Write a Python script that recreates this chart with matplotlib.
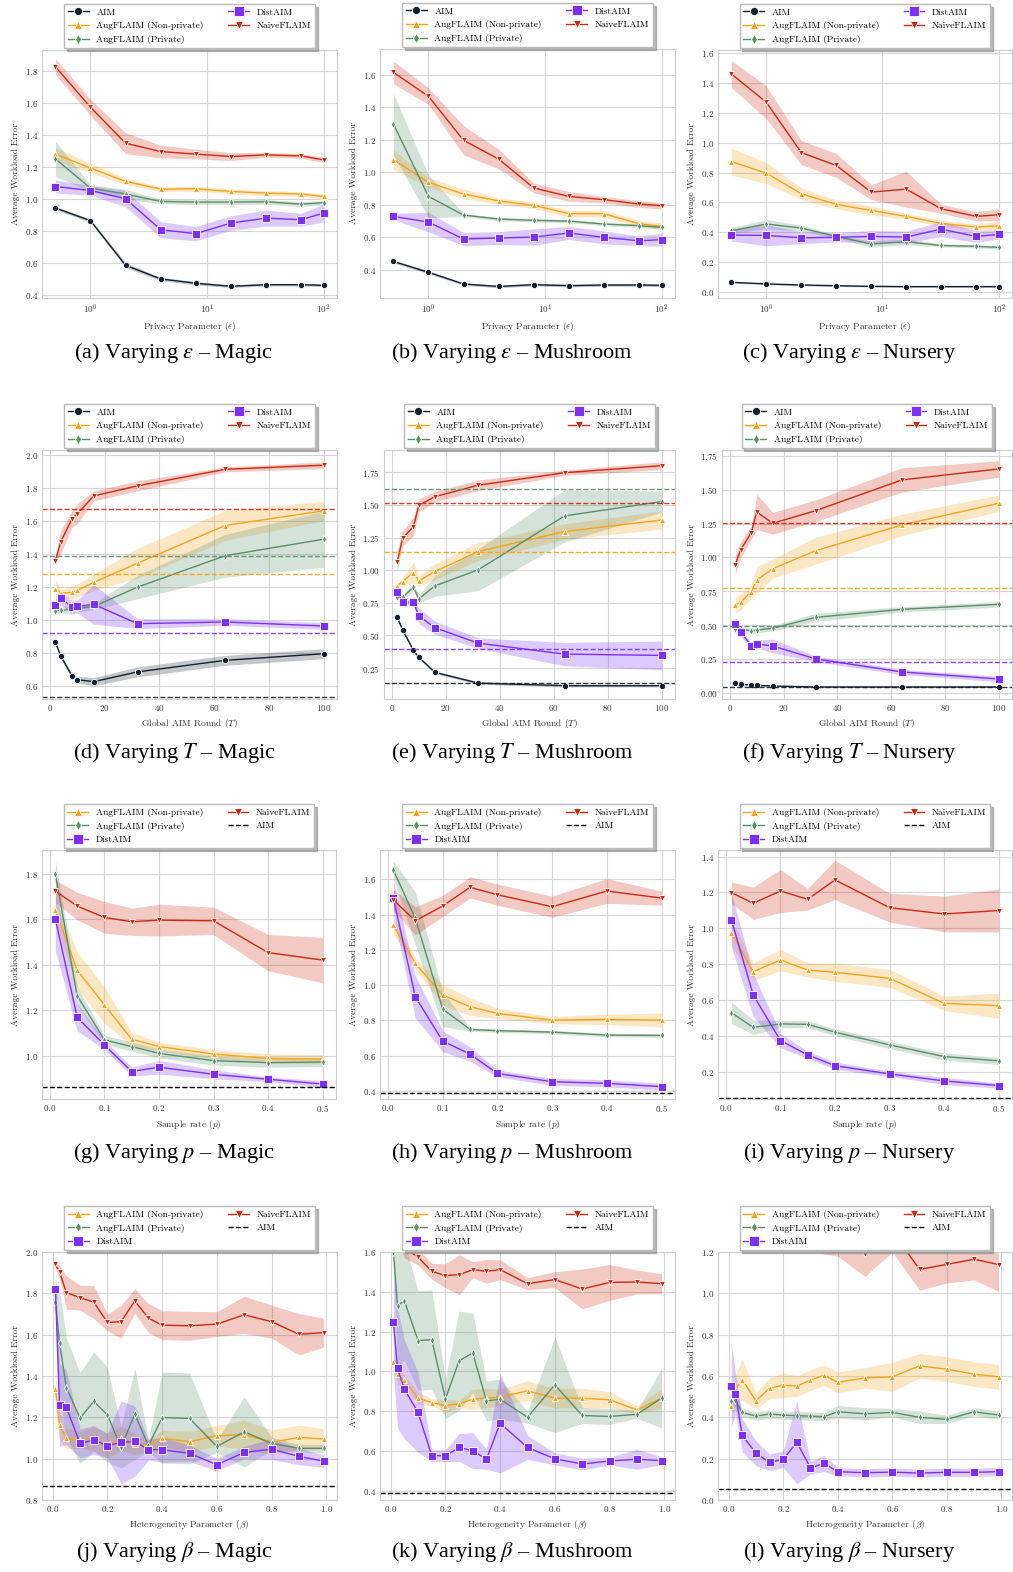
import numpy as np
import matplotlib.pyplot as plt
from matplotlib.ticker import MultipleLocator

plt.rcParams['font.family'] = ['cmr10', 'DejaVu Serif']
plt.rcParams['mathtext.fontset'] = 'cm'
plt.rcParams['axes.formatter.use_mathtext'] = True
plt.rcParams['axes.unicode_minus'] = False

# x values
eps = [0.5, 1, 2, 4, 8, 16, 32, 64, 100]
rounds = [2, 4, 8, 10, 16, 32, 64, 100]
rates = [0.01, 0.05, 0.1, 0.15, 0.2, 0.3, 0.4, 0.5]
betas = [0.01, 0.025, 0.05, 0.1, 0.15, 0.2, 0.25, 0.3, 0.35, 0.4, 0.5, 0.6, 0.7, 0.8, 0.9, 0.99]

AIM = "AIM"
NP = "AugFLAIM (Non-private)"
PR = "AugFLAIM (Private)"
DA = "DistAIM"
NF = "NaiveFLAIM"

# (a) epsilon - Magic
a_mean = {AIM: [0.944, 0.865, 0.587, 0.502, 0.475, 0.456, 0.466, 0.466, 0.462],
          NP: [1.28, 1.193, 1.110, 1.062, 1.064, 1.047, 1.037, 1.031, 1.016],
          PR: [1.25, 1.068, 1.031, 0.985, 0.981, 0.981, 0.983, 0.968, 0.977],
          DA: [1.078, 1.053, 1.002, 0.809, 0.784, 0.850, 0.881, 0.871, 0.912],
          NF: [1.825, 1.572, 1.348, 1.296, 1.280, 1.265, 1.275, 1.269, 1.244]}
a_err = {AIM: [0.01, 0.01, 0.015, 0.01, 0.01, 0.008, 0.008, 0.008, 0.008],
         NP: [0.04, 0.03, 0.02, 0.015, 0.015, 0.015, 0.015, 0.015, 0.015],
         PR: [0.11, 0.02, 0.03, 0.015, 0.015, 0.015, 0.015, 0.015, 0.015],
         DA: [0.04, 0.03, 0.05, 0.05, 0.045, 0.045, 0.05, 0.04, 0.055],
         NF: [0.05, 0.05, 0.065, 0.04, 0.03, 0.025, 0.015, 0.015, 0.015]}

# (b) epsilon - Mushroom
b_mean = {AIM: [0.451, 0.384, 0.312, 0.297, 0.308, 0.302, 0.306, 0.306, 0.304],
          NP: [1.077, 0.937, 0.866, 0.823, 0.796, 0.745, 0.745, 0.683, 0.667],
          PR: [1.296, 0.851, 0.736, 0.712, 0.704, 0.699, 0.681, 0.671, 0.661],
          DA: [0.728, 0.693, 0.589, 0.595, 0.601, 0.626, 0.599, 0.578, 0.585],
          NF: [1.614, 1.467, 1.196, 1.081, 0.903, 0.851, 0.831, 0.804, 0.794]}
b_err = {AIM: [0.01, 0.008, 0.008, 0.008, 0.008, 0.008, 0.008, 0.008, 0.008],
         NP: [0.06, 0.03, 0.03, 0.02, 0.02, 0.02, 0.02, 0.02, 0.02],
         PR: [0.19, 0.13, 0.01, 0.01, 0.01, 0.01, 0.01, 0.01, 0.01],
         DA: [0.02, 0.06, 0.04, 0.04, 0.05, 0.04, 0.04, 0.03, 0.04],
         NF: [0.07, 0.05, 0.09, 0.06, 0.03, 0.03, 0.02, 0.02, 0.02]}

# (c) epsilon - Nursery
c_mean = {AIM: [0.067, 0.056, 0.049, 0.044, 0.040, 0.038, 0.038, 0.038, 0.038],
          NP: [0.873, 0.796, 0.658, 0.587, 0.547, 0.507, 0.46, 0.436, 0.444],
          PR: [0.411, 0.456, 0.429, 0.373, 0.322, 0.338, 0.313, 0.307, 0.30],
          DA: [0.382, 0.38, 0.364, 0.367, 0.373, 0.369, 0.422, 0.373, 0.387],
          NF: [1.458, 1.269, 0.933, 0.847, 0.669, 0.689, 0.558, 0.507, 0.518]}
c_err = {AIM: [0.005] * 9,
         NP: [0.09, 0.07, 0.04, 0.03, 0.03, 0.02, 0.02, 0.02, 0.03],
         PR: [0.02, 0.03, 0.02, 0.01, 0.02, 0.02, 0.01, 0.01, 0.01],
         DA: [0.04, 0.07, 0.04, 0.03, 0.04, 0.04, 0.05, 0.04, 0.03],
         NF: [0.09, 0.11, 0.08, 0.08, 0.05, 0.12, 0.03, 0.03, 0.04]}

# (d) rounds - Magic
d_mean = {AIM: [0.866, 0.781, 0.664, 0.640, 0.628, 0.687, 0.757, 0.797],
          NP: [1.190, 1.164, 1.168, 1.180, 1.229, 1.345, 1.573, 1.662],
          PR: [1.057, 1.059, 1.067, 1.071, 1.083, 1.200, 1.390, 1.490],
          DA: [1.094, 1.134, 1.079, 1.083, 1.096, 0.979, 0.989, 0.965],
          NF: [1.361, 1.476, 1.611, 1.644, 1.752, 1.813, 1.913, 1.938]}
d_err = {AIM: [0.005, 0.01, 0.015, 0.02, 0.025, 0.03, 0.03, 0.03],
         NP: [0.05, 0.02, 0.04, 0.04, 0.05, 0.09, 0.09, 0.06],
         PR: [0.02, 0.02, 0.03, 0.02, 0.02, 0.07, 0.13, 0.17],
         DA: [0.04, 0.04, 0.04, 0.04, 0.12, 0.03, 0.02, 0.02],
         NF: [0.03, 0.07, 0.05, 0.06, 0.03, 0.03, 0.015, 0.02]}
d_hline = {AIM: 0.534, NP: 1.281, PR: 1.386, DA: 0.922, NF: 1.672}

# (e) rounds - Mushroom
e_mean = {AIM: [0.640, 0.543, 0.385, 0.332, 0.217, 0.135, 0.115, 0.115],
          NP: [0.880, 0.913, 0.982, 0.918, 0.990, 1.143, 1.296, 1.385],
          PR: [0.793, 0.793, 0.870, 0.781, 0.880, 1.003, 1.416, 1.526],
          DA: [0.834, 0.755, 0.755, 0.650, 0.559, 0.441, 0.357, 0.347],
          NF: [1.066, 1.245, 1.334, 1.497, 1.564, 1.651, 1.747, 1.801]}
e_err = {AIM: [0.01] * 8,
         NP: [0.02, 0.03, 0.08, 0.04, 0.06, 0.07, 0.06, 0.07],
         PR: [0.02, 0.02, 0.03, 0.03, 0.08, 0.16, 0.2, 0.08],
         DA: [0.02, 0.02, 0.02, 0.06, 0.05, 0.04, 0.09, 0.11],
         NF: [0.07, 0.06, 0.07, 0.05, 0.04, 0.04, 0.02, 0.03]}
e_hline = {AIM: 0.135, NP: 1.138, PR: 1.625, DA: 0.395, NF: 1.518}

# (f) rounds - Nursery
f_mean = {AIM: [0.069, 0.062, 0.057, 0.054, 0.049, 0.042, 0.042, 0.042],
          NP: [0.648, 0.668, 0.747, 0.833, 0.917, 1.050, 1.240, 1.400],
          PR: [0.468, 0.471, 0.456, 0.463, 0.476, 0.557, 0.616, 0.653],
          DA: [0.508, 0.451, 0.345, 0.360, 0.345, 0.249, 0.153, 0.101],
          NF: [0.944, 1.055, 1.183, 1.336, 1.252, 1.346, 1.573, 1.654]}
f_err = {AIM: [0.005] * 8,
         NP: [0.06, 0.06, 0.05, 0.1, 0.07, 0.1, 0.08, 0.06],
         PR: [0.02, 0.02, 0.02, 0.02, 0.02, 0.03, 0.02, 0.02],
         DA: [0.05, 0.03, 0.02, 0.03, 0.05, 0.02, 0.02, 0.02],
         NF: [0.07, 0.06, 0.05, 0.13, 0.08, 0.08, 0.09, 0.06]}
f_hline = {AIM: 0.042, NP: 0.771, PR: 0.495, DA: 0.229, NF: 1.252}

# (g) sample rate - Magic
g_mean = {NP: [1.641, 1.377, 1.223, 1.072, 1.040, 1.007, 0.988, 0.984],
          PR: [1.80, 1.264, 1.069, 1.040, 1.010, 0.978, 0.969, 0.972],
          DA: [1.602, 1.169, 1.047, 0.930, 0.949, 0.918, 0.896, 0.875],
          NF: [1.725, 1.659, 1.609, 1.590, 1.597, 1.594, 1.454, 1.421]}
g_err = {NP: [0.05, 0.08, 0.08, 0.03, 0.02, 0.02, 0.02, 0.02],
         PR: [0.06, 0.04, 0.02, 0.02, 0.02, 0.02, 0.02, 0.02],
         DA: [0.14, 0.06, 0.02, 0.02, 0.03, 0.02, 0.01, 0.015],
         NF: [0.05, 0.06, 0.07, 0.06, 0.07, 0.06, 0.08, 0.1]}
g_aim = 0.863

# (h) sample rate - Mushroom
h_mean = {NP: [1.339, 1.123, 0.943, 0.877, 0.839, 0.801, 0.805, 0.801],
          PR: [1.653, 1.379, 0.864, 0.748, 0.741, 0.733, 0.716, 0.714],
          DA: [1.492, 0.934, 0.682, 0.608, 0.498, 0.451, 0.442, 0.423],
          NF: [1.483, 1.365, 1.449, 1.555, 1.513, 1.445, 1.534, 1.494]}
h_err = {NP: [0.05, 0.03, 0.06, 0.05, 0.03, 0.02, 0.03, 0.04],
         PR: [0.05, 0.15, 0.1, 0.01, 0.01, 0.01, 0.01, 0.01],
         DA: [0.1, 0.12, 0.06, 0.04, 0.02, 0.02, 0.02, 0.02],
         NF: [0.06, 0.08, 0.06, 0.06, 0.06, 0.06, 0.07, 0.04]}
h_aim = 0.385

# (i) sample rate - Nursery
i_mean = {NP: [0.976, 0.758, 0.823, 0.767, 0.754, 0.721, 0.581, 0.568],
          PR: [0.529, 0.447, 0.466, 0.464, 0.420, 0.349, 0.284, 0.260],
          DA: [1.047, 0.628, 0.373, 0.293, 0.233, 0.187, 0.148, 0.122],
          NF: [1.199, 1.140, 1.208, 1.162, 1.270, 1.115, 1.080, 1.099]}
i_err = {NP: [0.07, 0.05, 0.06, 0.04, 0.05, 0.05, 0.04, 0.07],
         PR: [0.06, 0.04, 0.02, 0.02, 0.02, 0.02, 0.02, 0.02],
         DA: [0.15, 0.12, 0.04, 0.02, 0.02, 0.015, 0.02, 0.015],
         NF: [0.06, 0.09, 0.12, 0.06, 0.11, 0.08, 0.1, 0.12]}
i_aim = 0.055

# (j) heterogeneity - Magic
j_mean = {NP: [1.336, 1.162, 1.098, 1.092, 1.095, 1.063, 1.098, 1.071, 1.063, 1.098, 1.082, 1.111, 1.116, 1.079, 1.103, 1.095],
          PR: [1.758, 1.562, 1.344, 1.196, 1.277, 1.212, 1.055, 1.216, 1.063, 1.199, 1.195, 1.059, 1.130, 1.074, 1.050, 1.050],
          DA: [1.823, 1.259, 1.248, 1.074, 1.090, 1.063, 1.079, 1.084, 1.043, 1.043, 1.026, 0.971, 1.030, 1.046, 1.011, 0.988],
          NF: [1.940, 1.903, 1.804, 1.779, 1.758, 1.659, 1.663, 1.763, 1.680, 1.646, 1.643, 1.651, 1.696, 1.663, 1.602, 1.610]}
j_err = {NP: [0.1, 0.07, 0.05, 0.04, 0.06, 0.06, 0.06, 0.05, 0.03, 0.04, 0.05, 0.05, 0.07, 0.06, 0.06, 0.05],
         PR: [0.05, 0.25, 0.24, 0.22, 0.24, 0.23, 0.1, 0.22, 0.03, 0.22, 0.22, 0.03, 0.17, 0.03, 0.02, 0.02],
         DA: [0.1, 0.2, 0.18, 0.07, 0.07, 0.06, 0.2, 0.17, 0.05, 0.06, 0.04, 0.03, 0.03, 0.05, 0.04, 0.03],
         NF: [0.02, 0.03, 0.08, 0.06, 0.08, 0.04, 0.08, 0.06, 0.07, 0.07, 0.07, 0.06, 0.09, 0.08, 0.1, 0.07]}
j_aim = 0.866

# (k) heterogeneity - Mushroom
k_mean = {NP: [1.046, 0.987, 0.954, 0.865, 0.843, 0.828, 0.836, 0.860, 0.865, 0.870, 0.902, 0.865, 0.865, 0.857, 0.806, 0.865],
          PR: [1.598, 1.330, 1.355, 1.155, 1.159, 0.862, 1.053, 1.092, 0.851, 0.860, 0.769, 0.932, 0.778, 0.773, 0.784, 0.865],
          DA: [1.248, 1.016, 0.910, 0.794, 0.576, 0.575, 0.617, 0.601, 0.558, 0.739, 0.617, 0.560, 0.534, 0.549, 0.558, 0.551],
          NF: [1.78, 1.72, 1.62, 1.575, 1.503, 1.481, 1.486, 1.511, 1.503, 1.511, 1.441, 1.461, 1.414, 1.447, 1.449, 1.441]}
k_err = {NP: [0.04, 0.05, 0.03, 0.03, 0.02, 0.03, 0.02, 0.05, 0.05, 0.04, 0.05, 0.05, 0.05, 0.04, 0.02, 0.05],
         PR: [0.05, 0.3, 0.3, 0.25, 0.25, 0.1, 0.25, 0.2, 0.1, 0.1, 0.03, 0.24, 0.04, 0.04, 0.02, 0.15],
         DA: [0.25, 0.3, 0.25, 0.2, 0.03, 0.03, 0.07, 0.09, 0.05, 0.25, 0.06, 0.03, 0.03, 0.02, 0.05, 0.02],
         NF: [0.05, 0.05, 0.05, 0.04, 0.04, 0.06, 0.1, 0.04, 0.06, 0.05, 0.03, 0.04, 0.1, 0.09, 0.06, 0.05]}
k_aim = 0.387

# (l) heterogeneity - Nursery
l_mean = {NP: [0.454, 0.535, 0.583, 0.480, 0.540, 0.556, 0.551, 0.580, 0.604, 0.569, 0.591, 0.596, 0.649, 0.633, 0.609, 0.596],
          PR: [0.480, 0.483, 0.424, 0.406, 0.416, 0.411, 0.408, 0.406, 0.403, 0.427, 0.417, 0.424, 0.400, 0.390, 0.427, 0.411],
          DA: [0.553, 0.515, 0.313, 0.226, 0.182, 0.197, 0.279, 0.156, 0.177, 0.137, 0.132, 0.135, 0.130, 0.134, 0.134, 0.137],
          NF: [1.45, 1.42, 1.40, 1.38, 1.36, 1.35, 1.33, 1.32, 1.31, 1.30, 1.192, 1.30, 1.116, 1.140, 1.165, 1.139]}
l_err = {NP: [0.06, 0.07, 0.1, 0.04, 0.05, 0.06, 0.05, 0.05, 0.05, 0.05, 0.05, 0.07, 0.06, 0.06, 0.06, 0.06],
         PR: [0.05, 0.05, 0.02, 0.02, 0.02, 0.02, 0.02, 0.02, 0.02, 0.03, 0.03, 0.02, 0.03, 0.02, 0.02, 0.02],
         DA: [0.2, 0.1, 0.08, 0.06, 0.04, 0.04, 0.2, 0.03, 0.04, 0.02, 0.02, 0.02, 0.02, 0.02, 0.02, 0.02],
         NF: [0.1, 0.1, 0.1, 0.1, 0.1, 0.1, 0.1, 0.1, 0.12, 0.12, 0.11, 0.1, 0.1, 0.09, 0.1, 0.13]}
l_aim = 0.052

colors = {AIM: "#13202d", NP: "#f5a31a", PR: "#5b8e69", DA: "#7b2ff7", NF: "#cc2a10"}
markers = {AIM: "o", NP: "^", PR: "d", DA: "s", NF: "v"}
msizes = {AIM: 4.5, NP: 4.5, PR: 4.2, DA: 6.0, NF: 4.8}

W, H = 1013, 1572
fig = plt.figure(figsize=(W / 100, H / 100), dpi=100)


def box(l, t, r, b):
    return [l / W, 1 - b / H, (r - l) / W, (b - t) / H]


def draw(rect, x, mean, err, hline, aim, xlabel, ylim, ystep, caption, cx, cy, logx=False):
    ax = fig.add_axes(box(*rect))
    ax.set_facecolor("white")
    order = [AIM, NP, PR, DA, NF] if aim is None else [NP, PR, DA, NF]
    for name in order:
        m = np.array(mean[name])
        e = np.array(err[name])
        c = colors[name]
        ax.fill_between(x, m - e, m + e, color=c, alpha=0.25, lw=0)
        ax.plot(x, m, color=c, lw=1.0, marker=markers[name], ms=msizes[name],
                mec="white", mew=0.6, label=name)
    if hline is not None:
        for name, v in hline.items():
            ax.axhline(v, color=colors[name], ls="--", lw=1.0, alpha=0.9)
    if aim is not None:
        ax.axhline(aim, color="black", ls="--", lw=1.0, label=AIM)
    if logx:
        ax.set_xscale("log")
        ax.minorticks_off()
    ax.set_ylim(*ylim)
    ax.yaxis.set_major_locator(MultipleLocator(ystep))
    ax.grid(True, color="#d5d5d5", lw=0.8)
    ax.set_axisbelow(True)
    for s in ax.spines.values():
        s.set_color("#cccccc")
        s.set_linewidth(0.8)
    ax.tick_params(length=0, labelsize=6.5, labelcolor="#333333", pad=3)
    ax.set_xlabel(xlabel, fontsize=6.8, color="#333333", labelpad=3)
    ax.set_ylabel("Average Workload Error", fontsize=6.8, color="#333333", labelpad=3)
    ax.legend(loc="lower center", bbox_to_anchor=(0.5, 0.99), ncol=2, fontsize=6.8,
              frameon=True, edgecolor="#bbbbbb", framealpha=1, fancybox=False,
              shadow={"color": "0.55", "alpha": 0.6}, handlelength=2.2,
              markerscale=1.3, columnspacing=2.6, labelspacing=0.5, borderpad=0.4)
    fig.text(cx / W, 1 - cy / H, caption, ha="center", va="center", fontsize=16,
             family="Liberation Serif", math_fontfamily="stix", color="black")
    return ax


ylab_eps = r"Privacy Parameter ($\epsilon$)"
ylab_T = r"Global AIM Round ($T$)"
ylab_p = r"Sample rate ($p$)"
ylab_b = r"Heterogeneity Parameter ($\beta$)"

draw((42, 50, 337, 298), eps, a_mean, a_err, None, None, ylab_eps, (0.383, 1.929), 0.2,
     r"(a) Varying $\varepsilon$ – Magic", 174, 353, logx=True)
draw((380, 49, 675, 298), eps, b_mean, b_err, None, None, ylab_eps, (0.226, 1.758), 0.2,
     r"(b) Varying $\varepsilon$ – Mushroom", 512, 353, logx=True)
draw((718, 50, 1012, 298), eps, c_mean, c_err, None, None, ylab_eps, (-0.038, 1.618), 0.2,
     r"(c) Varying $\varepsilon$ – Nursery", 849, 353, logx=True)

draw((42, 450, 337, 699), rounds, d_mean, d_err, d_hline, None, ylab_T, (0.523, 2.03), 0.2,
     r"(d) Varying $T$ – Magic", 174, 753)
draw((384, 450, 675, 699), rounds, e_mean, e_err, e_hline, None, ylab_T, (0.013, 1.921), 0.25,
     r"(e) Varying $T$ – Mushroom", 512, 753)
draw((722, 450, 1012, 699), rounds, f_mean, f_err, f_hline, None, ylab_T, (-0.047, 1.794), 0.25,
     r"(f) Varying $T$ – Nursery", 849, 753)

draw((42, 850, 336, 1099), rates, g_mean, g_err, None, g_aim, ylab_p, (0.809, 1.906), 0.2,
     r"(g) Varying $p$ – Magic", 174, 1153)
draw((380, 850, 675, 1099), rates, h_mean, h_err, None, h_aim, ylab_p, (0.353, 1.767), 0.2,
     r"(h) Varying $p$ – Mushroom", 512, 1153)
draw((718, 850, 1012, 1099), rates, i_mean, i_err, None, i_aim, ylab_p, (0.047, 1.437), 0.2,
     r"(i) Varying $p$ – Nursery", 849, 1153)

draw((42, 1252, 337, 1500), betas, j_mean, j_err, None, j_aim, ylab_b, (0.8, 2.0), 0.2,
     r"(j) Varying $\beta$ – Magic", 174, 1552)
draw((380, 1252, 675, 1500), betas, k_mean, k_err, None, k_aim, ylab_b, (0.353, 1.6), 0.2,
     r"(k) Varying $\beta$ – Mushroom", 512, 1552)
draw((718, 1252, 1012, 1500), betas, l_mean, l_err, None, l_aim, ylab_b, (0.0, 1.2), 0.2,
     r"(l) Varying $\beta$ – Nursery", 849, 1552)

fig.savefig("out.png", dpi=100)
